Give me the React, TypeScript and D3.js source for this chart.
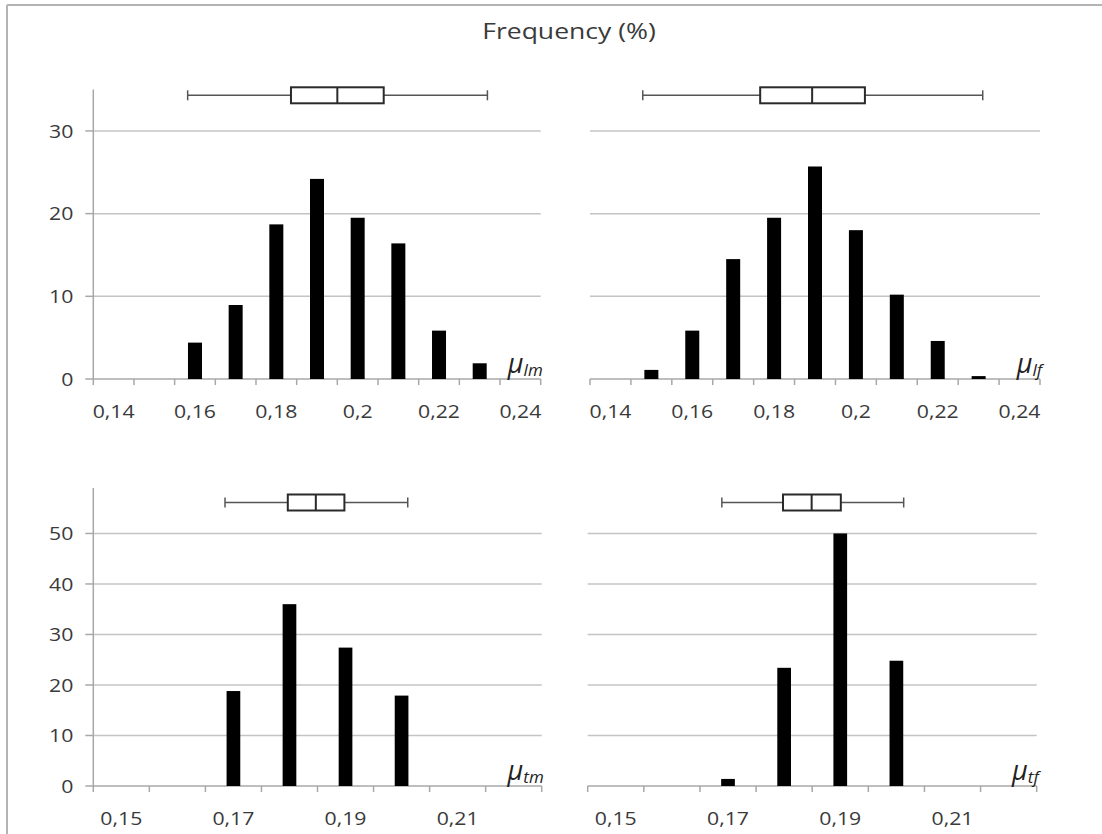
import React from "react";
import * as d3 from "d3";

// ---------- data ----------
const TITLE = "Frequency (%)";

const topCategories = [0.14, 0.15, 0.16, 0.17, 0.18, 0.19, 0.2, 0.21, 0.22, 0.23, 0.24];
const topTickLabels = ["0,14", "0,16", "0,18", "0,2", "0,22", "0,24"];
const bottomCategories = [0.15, 0.16, 0.17, 0.18, 0.19, 0.2, 0.21, 0.22];
const bottomTickLabels = ["0,15", "0,17", "0,19", "0,21"];

const topYTicks = [0, 10, 20, 30];
const bottomYTicks = [0, 10, 20, 30, 40, 50];

// frequencies (%)
const lmValues = [0, 0, 4.4, 8.95, 18.7, 24.2, 19.5, 16.4, 5.85, 1.9, 0];
const lfValues = [0, 1.1, 5.85, 14.5, 19.5, 25.7, 18.0, 10.2, 4.6, 0.35, 0];
const tmValues = [0, 0, 18.8, 36.0, 27.4, 17.9, 0, 0];
const tfValues = [0, 0, 1.4, 23.4, 50.0, 24.8, 0, 0];

// box plots: [min, q1, median, q3, max]
const lmBox = [0.1582, 0.1836, 0.195, 0.2064, 0.2319];
const lfBox = [0.1479, 0.1766, 0.1893, 0.2022, 0.231];
const tmBox = [0.1685, 0.1797, 0.1847, 0.1898, 0.2011];
const tfBox = [0.1689, 0.1798, 0.1849, 0.1901, 0.2013];

// ---------- styling ----------
const SX = 1.18; // horizontal stretch of the original picture's text
const FONT = "'Open Sans', 'Noto Sans', sans-serif";
const TEXT_COLOR = "#3a3a3a";
const GRID = "#c4c4c4";
const AXIS = "#a8a8a8";

function T(props: any) {
  const { x, y, anchor = "middle", size = 17, color = TEXT_COLOR, italic = false, children } = props;
  return (
    <g transform={`translate(${x},${y}) scale(${SX},1)`}>
      <text
        textAnchor={anchor}
        fontSize={size}
        fontFamily={FONT}
        fontStyle={italic ? "italic" : "normal"}
        fill={color}
      >
        {children}
      </text>
    </g>
  );
}

type PanelProps = {
  x0: number;
  x1: number;
  yZero: number;
  yTop: number;
  yMax: number;
  categories: number[];
  values: number[];
  tickLabels: string[];
  yTicks: number[];
  showYAxis: boolean;
  box: number[];
  boxY: number;
  barW: number;
  sub: string;
};

function Panel(p: PanelProps) {
  const band = d3
    .scaleBand<number>()
    .domain(p.categories)
    .range([p.x0, p.x1])
    .paddingInner(0)
    .paddingOuter(0);
  const bw = band.bandwidth();
  const step = p.categories[1] - p.categories[0];
  const xv = d3
    .scaleLinear()
    .domain([p.categories[0] - step / 2, p.categories[p.categories.length - 1] + step / 2])
    .range([p.x0, p.x1]);
  const y = d3.scaleLinear().domain([0, p.yMax]).range([p.yZero, p.yTop]);

  const boundaries = p.categories.map((c) => band(c) as number).concat([p.x1]);
  const [mn, q1, md, q3, mx] = p.box;
  const bh = 8;

  return (
    <g>
      {/* gridlines */}
      {p.yTicks
        .filter((t) => t > 0)
        .map((t) => (
          <line key={"g" + t} x1={p.x0} x2={p.x1} y1={y(t)} y2={y(t)} stroke={GRID} strokeWidth={1.5} />
        ))}
      {/* y axis */}
      {p.showYAxis && (
        <g>
          <line x1={p.x0} x2={p.x0} y1={p.yTop} y2={y(0)} stroke={AXIS} strokeWidth={1.5} />
          {p.yTicks.map((t) => (
            <g key={"yt" + t}>
              <line x1={p.x0 - 8} x2={p.x0} y1={y(t)} y2={y(t)} stroke={AXIS} strokeWidth={1.5} />
              <T x={p.x0 - 20} y={y(t) + 6.8} anchor="end" size={18}>
                {String(t)}
              </T>
            </g>
          ))}
        </g>
      )}
      {/* x axis */}
      <line x1={p.x0} x2={p.x1} y1={y(0)} y2={y(0)} stroke={AXIS} strokeWidth={1.5} />
      {boundaries.map((bx, i) => (
        <line key={"xt" + i} x1={bx} x2={bx} y1={y(0)} y2={y(0) + 6} stroke={AXIS} strokeWidth={1.5} />
      ))}
      {p.tickLabels.map((lab, i) => {
        const c = p.categories[i * 2];
        return (
          <T key={"xl" + lab} x={(band(c) as number) + bw / 2} y={y(0) + 38.5} size={18}>
            {lab}
          </T>
        );
      })}
      {/* bars */}
      {p.values.map((v, i) => {
        const c = p.categories[i];
        if (v <= 0) return null;
        const cx = (band(c) as number) + bw / 2;
        return (
          <rect
            key={"b" + i}
            x={cx - p.barW / 2}
            y={y(v)}
            width={p.barW}
            height={y(0) - y(v)}
            fill="#000"
          />
        );
      })}
      {/* box plot */}
      <g>
        <line x1={xv(mn)} x2={xv(q1)} y1={p.boxY} y2={p.boxY} stroke="#555" strokeWidth={1.5} />
        <line x1={xv(q3)} x2={xv(mx)} y1={p.boxY} y2={p.boxY} stroke="#555" strokeWidth={1.5} />
        <line x1={xv(mn)} x2={xv(mn)} y1={p.boxY - 5} y2={p.boxY + 5} stroke="#555" strokeWidth={1.5} />
        <line x1={xv(mx)} x2={xv(mx)} y1={p.boxY - 5} y2={p.boxY + 5} stroke="#555" strokeWidth={1.5} />
        <rect
          x={xv(q1)}
          y={p.boxY - bh}
          width={xv(q3) - xv(q1)}
          height={bh * 2}
          fill="#fff"
          stroke="#2a2a2a"
          strokeWidth={2}
        />
        <line x1={xv(md)} x2={xv(md)} y1={p.boxY - bh} y2={p.boxY + bh} stroke="#2a2a2a" strokeWidth={2} />
      </g>
      {/* parameter label */}
      <g transform={`translate(${p.x1 + 2},${y(0) - 6})`}>
        <text textAnchor="end" fontFamily={FONT} fontStyle="italic" fill="#222">
          <tspan fontSize={27}>μ</tspan>
          <tspan fontSize={17} dy={3}>
            {p.sub}
          </tspan>
        </text>
      </g>
    </g>
  );
}

export default function App() {
  return (
    <svg
      width={1102}
      height={834}
      style={{ position: "absolute", left: 0, top: 0, background: "#fff" }}
    >
      <rect x={0} y={0} width={1102} height={834} fill="#fff" />
      {/* frame */}
      <line x1={7} x2={1102} y1={5} y2={5} stroke="#b4b4b4" strokeWidth={2} />
      <line x1={7} x2={7} y1={5} y2={834} stroke="#b4b4b4" strokeWidth={2} />
      <T x={569} y={39} size={22.5}>
        {TITLE}
      </T>

      <Panel
        x0={93.3}
        x1={540.7}
        yZero={379}
        yTop={89.6}
        yMax={35}
        categories={topCategories}
        values={lmValues}
        tickLabels={topTickLabels}
        yTicks={topYTicks}
        showYAxis={true}
        box={lmBox}
        boxY={95.3}
        barW={14}
        sub="lm"
      />
      <Panel
        x0={590}
        x1={1040}
        yZero={379}
        yTop={89.6}
        yMax={35}
        categories={topCategories}
        values={lfValues}
        tickLabels={topTickLabels}
        yTicks={topYTicks}
        showYAxis={false}
        box={lfBox}
        boxY={95.3}
        barW={14}
        sub="lf"
      />
      <Panel
        x0={93.3}
        x1={541.7}
        yZero={786}
        yTop={488}
        yMax={59}
        categories={bottomCategories}
        values={tmValues}
        tickLabels={bottomTickLabels}
        yTicks={bottomYTicks}
        showYAxis={true}
        box={tmBox}
        boxY={502.5}
        barW={13.7}
        sub="tm"
      />
      <Panel
        x0={587.7}
        x1={1036.7}
        yZero={786}
        yTop={488}
        yMax={59}
        categories={bottomCategories}
        values={tfValues}
        tickLabels={bottomTickLabels}
        yTicks={bottomYTicks}
        showYAxis={false}
        box={tfBox}
        boxY={502.5}
        barW={13.7}
        sub="tf"
      />
    </svg>
  );
}
